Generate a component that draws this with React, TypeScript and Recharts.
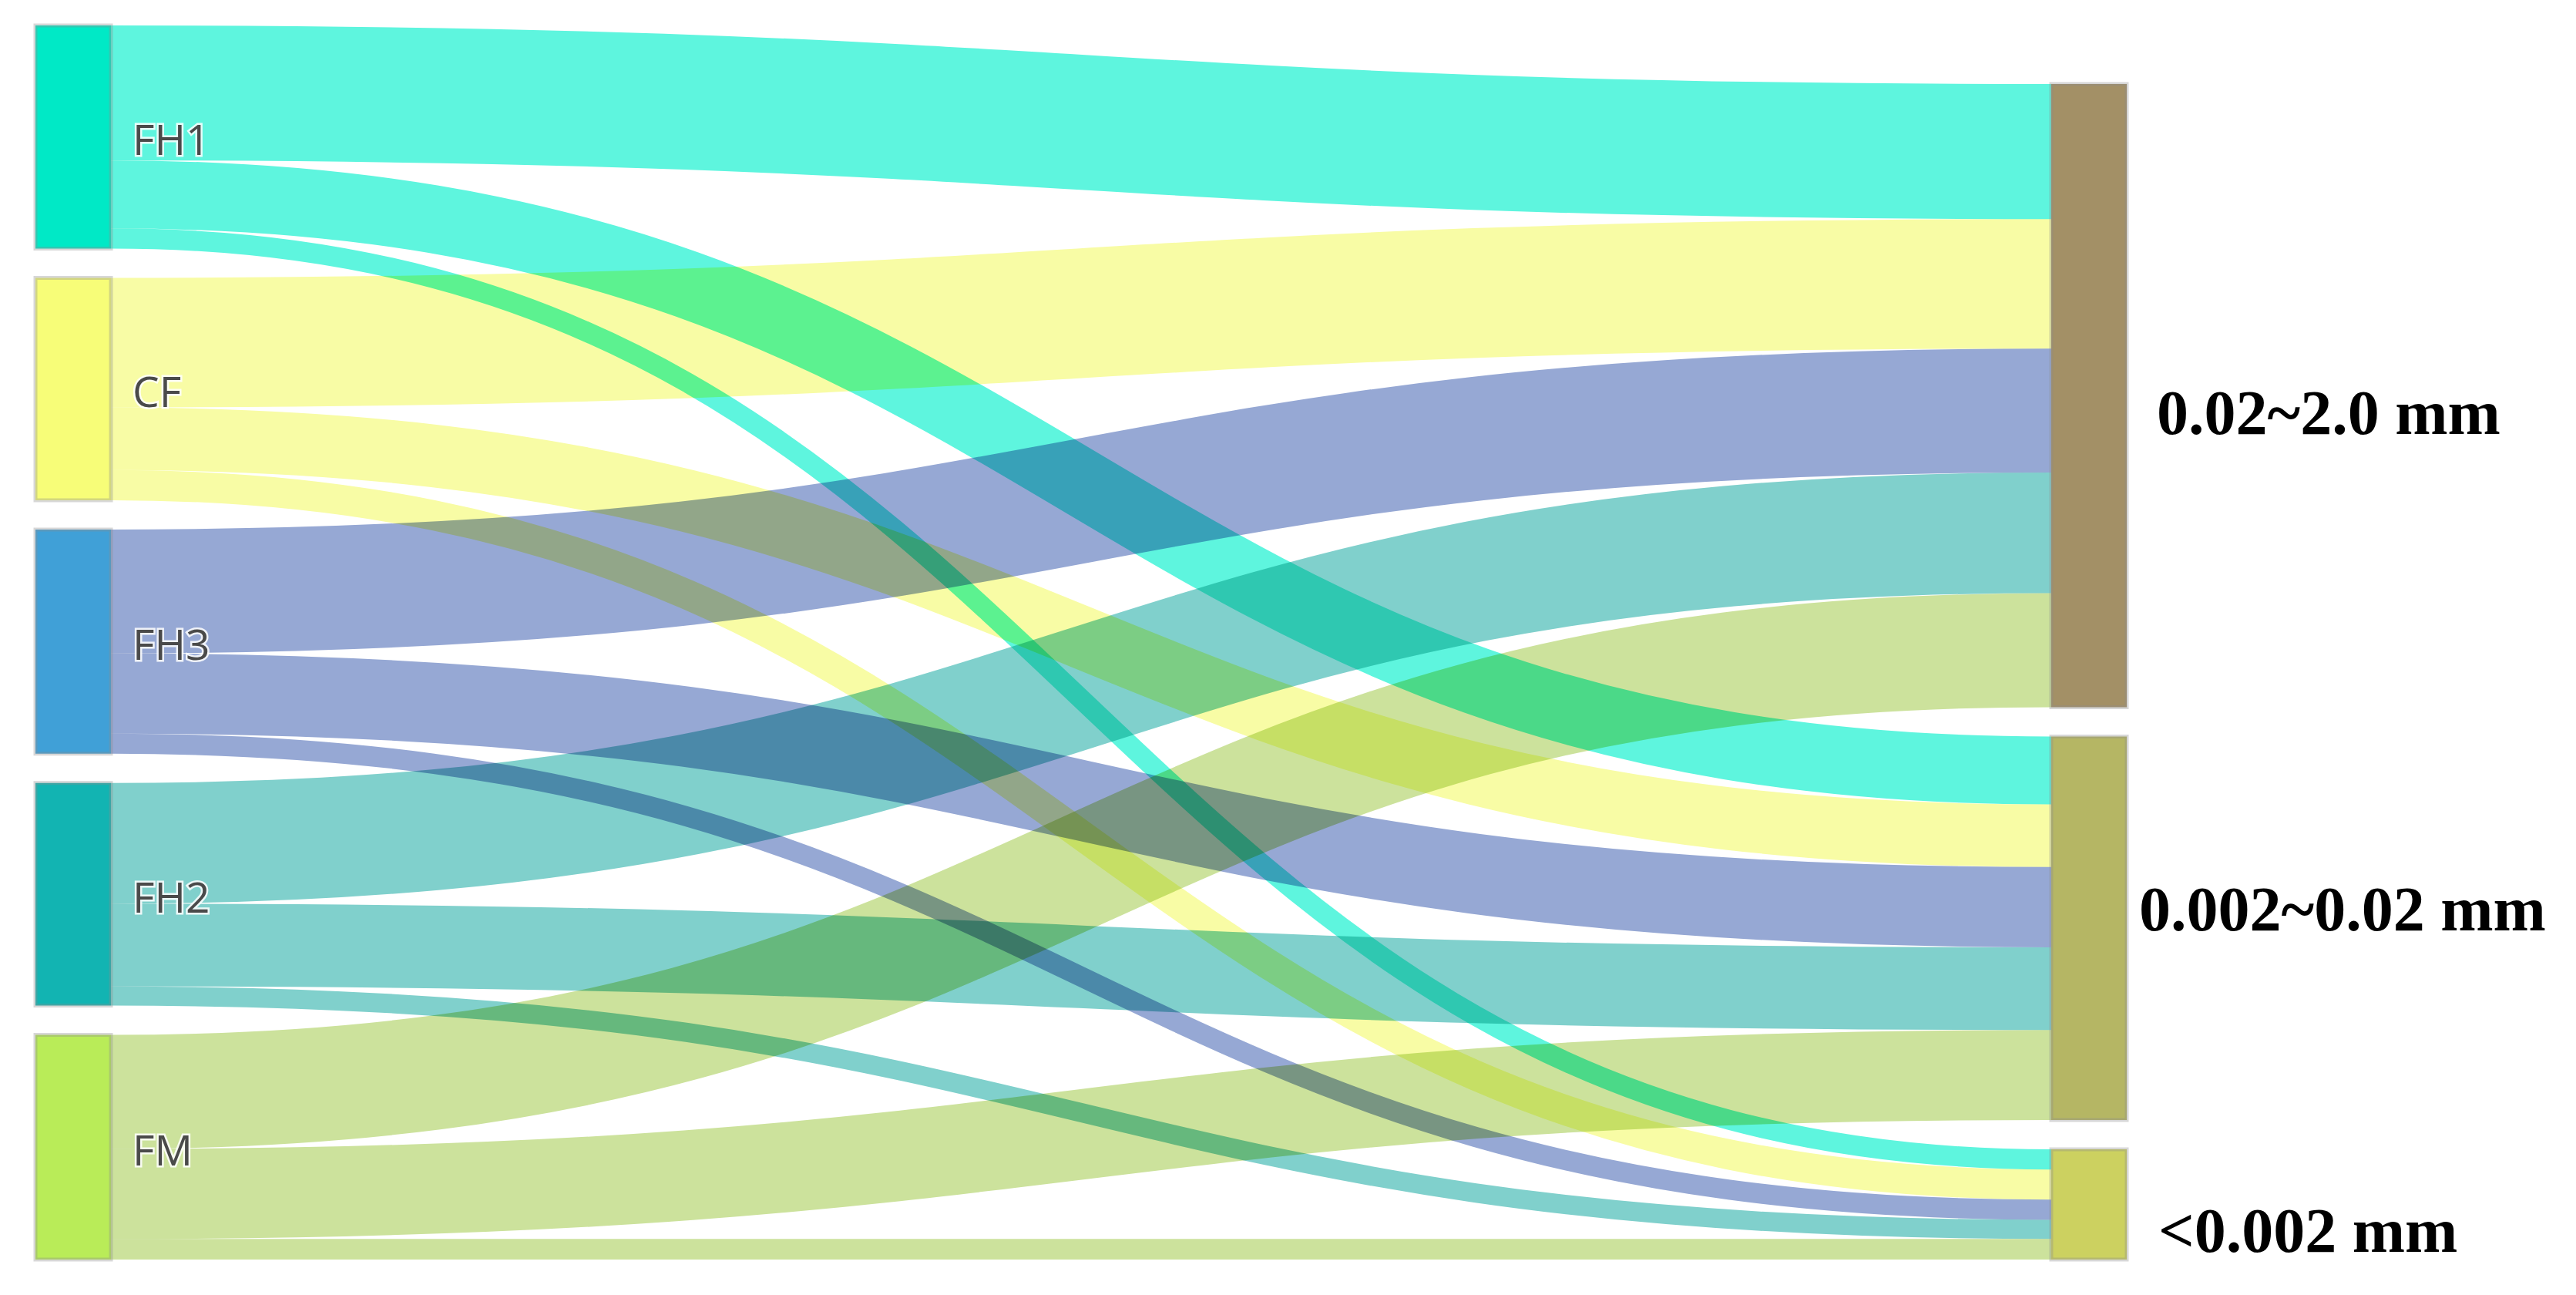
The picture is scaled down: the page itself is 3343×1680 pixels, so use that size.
import React from 'react';
import { Sankey, Rectangle, Layer } from 'recharts';

// soil samples (left) and particle-size fractions (right), values in %
const SAMPLES = ['FH1', 'CF', 'FH3', 'FH2', 'FM'];
const FRACTIONS = ['0.02~2.0 mm', '0.002~0.02 mm', '<0.002 mm'];

const SAND = [60.4, 58.0, 55.4, 54.0, 51.0]; // 0.02~2.0 mm
const SILT = [30.4, 28.0, 35.9, 37.0, 40.3]; // 0.002~0.02 mm
const CLAY = [9.0, 13.5, 9.0, 8.6, 9.2]; // <0.002 mm

const NODE_COLORS: Record<string, string> = {
  FH1: '#00e9c6',
  CF: '#f7fd78',
  FH3: '#40a0d7',
  FH2: '#12b4b2',
  FM: '#b9ec58',
  '0.02~2.0 mm': '#a39066',
  '0.002~0.02 mm': '#b5b664',
  '<0.002 mm': '#ccd160',
};

const LINK_COLORS: Record<string, string> = {
  FH1: '#5ef5de',
  CF: '#f8fca5',
  FH3: '#96a8d4',
  FH2: '#80d0cc',
  FM: '#cce29c',
};

// hand placement of the fraction labels next to their bars
const RIGHT_LABEL_OFFSET: Record<string, { dx: number; dy: number }> = {
  '0.02~2.0 mm': { dx: 39, dy: 22 },
  '0.002~0.02 mm': { dx: 16, dy: -25 },
  '<0.002 mm': { dx: 41, dy: 34 },
};

const nodes = [...SAMPLES, ...FRACTIONS].map((name) => ({ name }));
const links = SAMPLES.flatMap((_s, i) => [
  { source: i, target: SAMPLES.length, value: SAND[i] },
  { source: i, target: SAMPLES.length + 1, value: SILT[i] },
  { source: i, target: SAMPLES.length + 2, value: CLAY[i] },
]);

// eslint-disable-next-line @typescript-eslint/no-explicit-any
const SankeyNode = (props: any) => {
  const { x, y, width, height, payload } = props;
  const name: string = payload.name;
  const isLeft = payload.depth === 0;
  const off = RIGHT_LABEL_OFFSET[name] || { dx: 30, dy: 0 };
  return (
    <Layer>
      <Rectangle
        x={x}
        y={y}
        width={width}
        height={height}
        fill={NODE_COLORS[name]}
        stroke="rgba(140,140,140,0.35)"
        strokeWidth={5}
      />
      {isLeft ? (
        <text
          x={x + width + 28}
          y={y + height / 2 + 2}
          dominantBaseline="central"
          fontFamily="'Open Sans', 'Noto Sans', sans-serif"
          fontSize={55}
          fill="#4a4a4a"
          stroke="rgba(255,255,255,0.85)"
          strokeWidth={5}
          paintOrder="stroke"
        >
          {name}
        </text>
      ) : (
        <text
          x={x + width + off.dx}
          y={y + height / 2 + off.dy}
          dominantBaseline="central"
          fontFamily="'Liberation Serif', 'Times New Roman', serif"
          fontWeight="bold"
          fontSize={82}
          fill="#000"
        >
          {name}
        </text>
      )}
    </Layer>
  );
};

// eslint-disable-next-line @typescript-eslint/no-explicit-any
const SankeyLink = (props: any) => {
  const { sourceX, sourceY, sourceControlX, targetX, targetY, targetControlX, linkWidth, payload } = props;
  const src = payload?.source?.name;
  return (
    <path
      d={`M${sourceX},${sourceY} C${sourceControlX},${sourceY} ${targetControlX},${targetY} ${targetX},${targetY}`}
      fill="none"
      stroke={LINK_COLORS[src] || '#ccc'}
      strokeWidth={linkWidth}
      style={{ mixBlendMode: 'multiply' }}
    />
  );
};

export default function App() {
  return (
    <div style={{ position: 'absolute', left: 0, top: 0, width: 3343, height: 1680, background: '#fff' }}>
      <Sankey
        width={3343}
        height={1680}
        data={{ nodes, links }}
        margin={{ top: 33, right: 583, bottom: 46, left: 46 }}
        nodeWidth={98}
        nodePadding={38}
        iterations={32}
        sort={false}
        linkCurvature={0.5}
        node={SankeyNode}
        link={SankeyLink}
      />
    </div>
  );
}
